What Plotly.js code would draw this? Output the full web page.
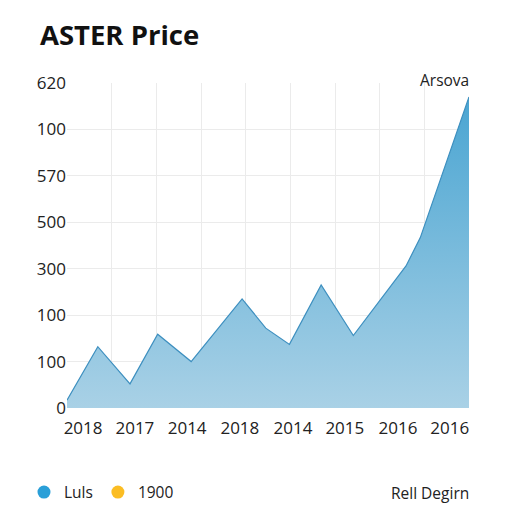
<!DOCTYPE html>
<html>
<head>
<meta charset="utf-8">
<script src="https://cdn.plot.ly/plotly-3.0.1.min.js"></script>
<style>html,body{margin:0;padding:0;background:#fff;}#chart{width:512px;height:512px;}</style>
</head>
<body>
<div id="chart"></div>
<script>
// Series (x positions in grid units, y in grid-step units)
var priceX = [0, 0.69, 1.41, 2.03, 2.78, 3.92, 4.45, 4.98, 5.69, 6.41, 7.59, 7.91, 9.0];
var priceY = [0.17, 1.32, 0.52, 1.59, 1.00, 2.35, 1.72, 1.37, 2.65, 1.56, 3.06, 3.67, 6.70];
// Tick labels
var yTickVals = [0, 1, 2, 3, 4, 5, 6, 7];
var yTickText = ['0', '100', '100', '300', '500', '570', '100', '620'];
var xTickVals = [0.36, 1.52, 2.69, 3.87, 5.06, 6.22, 7.41, 8.57];
var xTickText = ['2018', '2017', '2014', '2018', '2014', '2015', '2016', '2016'];
var legendNames = ['Luls', '1900'];
var legendColors = ['#2a9fd8', '#fbbd23'];

var font = 'Open Sans, Noto Sans, sans-serif';
var traces = [{
  x: priceX, y: priceY, type: 'scatter', mode: 'lines',
  line: {color: '#3d8fbf', width: 1.2},
  fill: 'tozeroy',
  fillgradient: {type: 'vertical', colorscale: [[0, '#a9d1e6'], [1, '#4aa5d2']]},
  showlegend: false, hoverinfo: 'skip'
}];
for (var i = 0; i < legendNames.length; i++) {
  traces.push({x: [null], y: [null], type: 'scatter', mode: 'markers', name: legendNames[i],
    marker: {color: legendColors[i], size: 13}});
}
traces.push({x: [null], y: [null], xaxis: 'x2', type: 'scatter', showlegend: false});

var layout = {
  width: 512, height: 512,
  margin: {l: 67, r: 43, t: 83, b: 104, autoexpand: false},
  paper_bgcolor: '#fff', plot_bgcolor: '#fff',
  font: {family: font, color: '#222', size: 15},
  title: {text: '<b>ASTER Price</b>', x: 0.078, xanchor: 'left', y: 0.93, yanchor: 'middle',
    font: {family: font, size: 27.5, color: '#111'}},
  xaxis: {range: [0, 9], dtick: 1, tick0: 0, showticklabels: false, showgrid: true,
    gridcolor: '#ebebeb', zeroline: false, showline: false, ticks: ''},
  xaxis2: {overlaying: 'x', matches: 'x', side: 'bottom', range: [0, 9], tickmode: 'array',
    tickvals: xTickVals, ticktext: xTickText, showgrid: false, zeroline: false,
    ticks: '', ticklabelstandoff: 8, tickfont: {size: 17, color: '#222'}},
  yaxis: {range: [0, 7], tickmode: 'array', tickvals: yTickVals, ticktext: yTickText,
    showgrid: true, gridcolor: '#ebebeb', zeroline: false, showline: false, ticks: '',
    tickfont: {size: 17, color: '#222'}},
  showlegend: true,
  legend: {orientation: 'h', x: -0.107, xanchor: 'left', y: -0.26, yanchor: 'middle',
    font: {size: 15.5, color: '#222'}, itemclick: false},
  annotations: [
    {text: 'Arsova', xref: 'paper', yref: 'paper', x: 1.005, y: 1.01, xanchor: 'right',
      yanchor: 'middle', showarrow: false, font: {size: 15.5, color: '#222'}},
    {text: 'Rell Degirn', xref: 'paper', yref: 'paper', x: 1.005, y: -0.26, xanchor: 'right',
      yanchor: 'middle', showarrow: false, font: {size: 15.5, color: '#222'}}
  ]
};
Plotly.newPlot('chart', traces, layout, {displayModeBar: false, staticPlot: true});
</script>
</body>
</html>
